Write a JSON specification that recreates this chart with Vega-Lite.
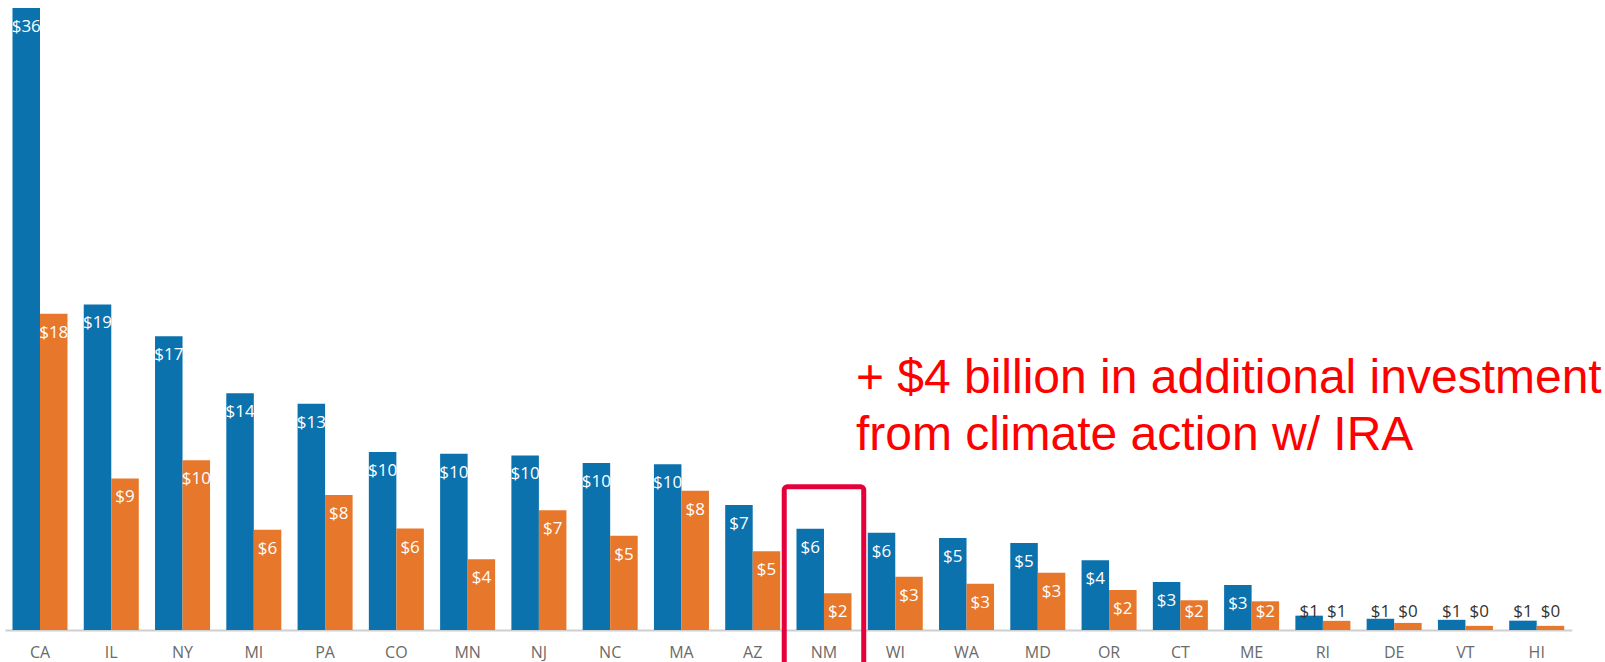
{
  "$schema": "https://vega.github.io/schema/vega-lite/v6.json",
  "autosize": {"type": "none"},
  "padding": {"left": 5, "top": 8, "right": 33.3, "bottom": 32},
  "width": 1566.7,
  "height": 622,
  "config": {"view": {"stroke": null}},
  "data": {"values": [
    {"state": "CA", "series": "A", "value": 36},
    {"state": "CA", "series": "B", "value": 18.3},
    {"state": "IL", "series": "A", "value": 18.84},
    {"state": "IL", "series": "B", "value": 8.77},
    {"state": "NY", "series": "A", "value": 17.0},
    {"state": "NY", "series": "B", "value": 9.83},
    {"state": "MI", "series": "A", "value": 13.7},
    {"state": "MI", "series": "B", "value": 5.8},
    {"state": "PA", "series": "A", "value": 13.1},
    {"state": "PA", "series": "B", "value": 7.82},
    {"state": "CO", "series": "A", "value": 10.3},
    {"state": "CO", "series": "B", "value": 5.87},
    {"state": "MN", "series": "A", "value": 10.2},
    {"state": "MN", "series": "B", "value": 4.09},
    {"state": "NJ", "series": "A", "value": 10.1},
    {"state": "NJ", "series": "B", "value": 6.93},
    {"state": "NC", "series": "A", "value": 9.66},
    {"state": "NC", "series": "B", "value": 5.45},
    {"state": "MA", "series": "A", "value": 9.6},
    {"state": "MA", "series": "B", "value": 8.06},
    {"state": "AZ", "series": "A", "value": 7.23},
    {"state": "AZ", "series": "B", "value": 4.56},
    {"state": "NM", "series": "A", "value": 5.86},
    {"state": "NM", "series": "B", "value": 2.13},
    {"state": "WI", "series": "A", "value": 5.63},
    {"state": "WI", "series": "B", "value": 3.08},
    {"state": "WA", "series": "A", "value": 5.33},
    {"state": "WA", "series": "B", "value": 2.67},
    {"state": "MD", "series": "A", "value": 5.04},
    {"state": "MD", "series": "B", "value": 3.32},
    {"state": "OR", "series": "A", "value": 4.03},
    {"state": "OR", "series": "B", "value": 2.31},
    {"state": "CT", "series": "A", "value": 2.78},
    {"state": "CT", "series": "B", "value": 1.72},
    {"state": "ME", "series": "A", "value": 2.61},
    {"state": "ME", "series": "B", "value": 1.66},
    {"state": "RI", "series": "A", "value": 0.83},
    {"state": "RI", "series": "B", "value": 0.53},
    {"state": "DE", "series": "A", "value": 0.65},
    {"state": "DE", "series": "B", "value": 0.41},
    {"state": "VT", "series": "A", "value": 0.59},
    {"state": "VT", "series": "B", "value": 0.24},
    {"state": "HI", "series": "A", "value": 0.54},
    {"state": "HI", "series": "B", "value": 0.24}
  ]},
  "encoding": {
    "x": {
      "field": "state", "type": "nominal", "sort": null, "title": null,
      "scale": {"paddingInner": 0.228, "paddingOuter": 0.105},
      "axis": {
        "domain": true, "domainColor": "#cfcfcf", "domainWidth": 2,
        "ticks": false, "tickSize": 0, "labelAngle": 0,
        "labelFont": "Open Sans", "labelFontSize": 16, "labelColor": "#6a6a6a",
        "labelBaseline": "middle", "labelPadding": 22, "grid": false
      }
    }
  },
  "layer": [
    {
      "mark": {"type": "bar"},
      "encoding": {
        "xOffset": {"field": "series", "type": "nominal", "scale": {"paddingInner": 0, "paddingOuter": 0}},
        "y": {"field": "value", "type": "quantitative", "scale": {"domain": [0, 36], "nice": false, "zero": true}, "axis": null},
        "color": {"field": "series", "type": "nominal", "scale": {"domain": ["A", "B"], "range": ["#0B72AD", "#E7772A"]}, "legend": null}
      }
    },
    {
      "transform": [{"filter": "datum.value >= 2.08"}],
      "mark": {"type": "text", "baseline": "middle", "align": "center", "dy": 19, "font": "Open Sans", "fontSize": 17, "color": "white"},
      "encoding": {
        "xOffset": {"field": "series", "type": "nominal"},
        "y": {"field": "value", "type": "quantitative"},
        "text": {"field": "value", "type": "quantitative", "format": "$.0f"}
      }
    },
    {
      "transform": [{"filter": "datum.value < 2.08 && datum.value >= 1.2"}],
      "mark": {"type": "text", "baseline": "middle", "align": "center", "dy": -18, "font": "Open Sans", "fontSize": 17, "color": "white"},
      "encoding": {
        "xOffset": {"field": "series", "type": "nominal"},
        "y": {"datum": 0, "type": "quantitative"},
        "text": {"field": "value", "type": "quantitative", "format": "$.0f"}
      }
    },
    {
      "transform": [{"filter": "datum.value < 1.2"}],
      "mark": {"type": "text", "baseline": "middle", "align": "center", "dy": -18, "font": "Open Sans", "fontSize": 17, "color": "#333333"},
      "encoding": {
        "xOffset": {"field": "series", "type": "nominal"},
        "y": {"datum": 0, "type": "quantitative"},
        "text": {"field": "value", "type": "quantitative", "format": "$.0f"}
      }
    },
    {
      "data": {"values": [{"state": "NM"}]},
      "mark": {"type": "bar", "width": {"band": 1.445}, "fill": "transparent", "stroke": "#E4003A", "strokeWidth": 5, "cornerRadius": 3},
      "encoding": {
        "x": {"field": "state", "type": "nominal", "sort": null},
        "y": {"datum": 8.29, "type": "quantitative"},
        "y2": {"datum": -3}
      }
    },
    {
      "data": {"values": [{"state": "NM"}]},
      "mark": {"type": "text", "text": ["+ $4 billion in additional investment", "from climate action w/ IRA"], "font": "Liberation Sans", "fontSize": 48, "lineHeight": 57, "color": "#FF0000", "align": "left", "baseline": "alphabetic"},
      "encoding": {
        "x": {"field": "state", "type": "nominal", "sort": null, "bandPosition": 1.08},
        "y": {"datum": 13.7, "type": "quantitative"}
      }
    }
  ]
}
